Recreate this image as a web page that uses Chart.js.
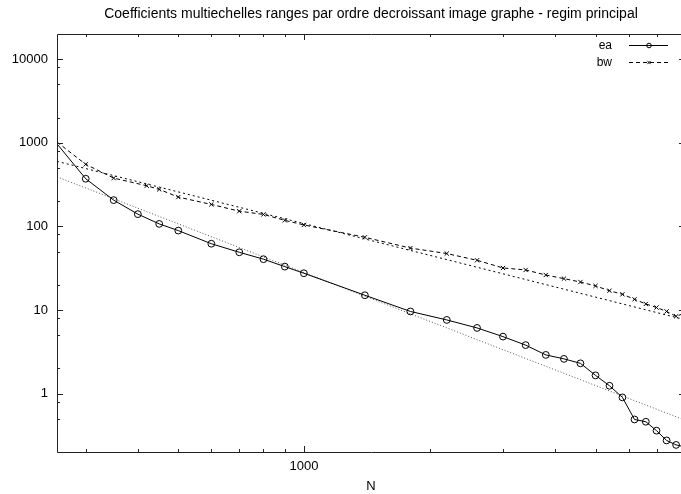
<!DOCTYPE html>
<html>
<head>
<meta charset="utf-8">
<script src="https://cdn.jsdelivr.net/npm/chart.js@4/dist/chart.umd.min.js"></script>
<style>
  html, body { margin: 0; padding: 0; background: #fff; overflow: hidden; }
  canvas { display: block; }
</style>
</head>
<body>
<canvas id="plot" width="690" height="494"></canvas>
<script>
// ranks N (x) and coefficient values (y)
const eaN = [256, 300, 350, 400, 450, 500, 600, 700, 800, 900, 1000, 1400, 1800, 2200, 2600,
             3000, 3400, 3800, 4200, 4600, 5000, 5400, 5800, 6200, 6600, 7000, 7400, 7800, 8192];
const eaVals = [970, 371, 206, 140, 107, 89, 62, 49, 40.5, 33, 27.5, 15, 9.6, 7.6, 6.1,
                4.8, 3.8, 2.9, 2.6, 2.3, 1.65, 1.24, 0.9, 0.49, 0.46, 0.36, 0.275, 0.243, 0.23];
const bwN = [256, 300, 350, 420, 450, 500, 600, 700, 800, 900, 1000, 1400, 1800, 2200, 2600,
             3000, 3400, 3800, 4200, 4600, 5000, 5400, 5800, 6200, 6600, 7000, 7400, 7800, 8192];
const bwVals = [1020, 552, 378, 306, 277, 224, 183, 152, 139, 118, 104, 74, 55, 47.3, 39.3,
                31.8, 30.1, 26.2, 23.7, 21.6, 19.4, 17.0, 15.4, 13.4, 11.8, 10.7, 9.6, 8.4, 9.2];

// power-law fits (straight lines in log-log)
const fitN = [256, 8192];
const eaFit = [391, 0.48];
const bwFit = [600, 7.65];

// axis ticks
const xMajor = [1000];
const xMinor = [300, 400, 500, 600, 700, 800, 900, 2000, 3000, 4000, 5000, 6000, 7000, 8000];
const yMajor = [1, 10, 100, 1000, 10000];
const yMinor = [0.5, 0.8, 2, 5, 8, 20, 50, 80, 200, 500, 800, 2000, 5000, 8000];

const pts = (xs, ys) => xs.map((v, i) => ({x: v, y: ys[i]}));
const FAMILY = '"Liberation Sans", Arial, Helvetica, sans-serif';
const FONT = {family: FAMILY, size: 13};

// gnuplot-style border with inward ticks on all four sides
const frame = {
    id: 'frame',
    afterDraw(chart) {
        const {ctx, chartArea: {left, top, right, bottom}, scales: {x, y}} = chart;
        ctx.save();
        ctx.strokeStyle = '#222';
        ctx.lineWidth = 1;
        ctx.beginPath();
        ctx.rect(Math.round(left) + 0.5, Math.round(top) + 0.5,
                 Math.round(right - left), Math.round(bottom - top));
        const xt = (vals, len) => vals.forEach(v => {
            const px = Math.round(x.getPixelForValue(v)) + 0.5;
            ctx.moveTo(px, bottom); ctx.lineTo(px, bottom - len);
            ctx.moveTo(px, top); ctx.lineTo(px, top + len);
        });
        const yt = (vals, len) => vals.forEach(v => {
            const py = Math.round(y.getPixelForValue(v)) + 0.5;
            ctx.moveTo(left, py); ctx.lineTo(left + len, py);
            ctx.moveTo(right, py); ctx.lineTo(right - len, py);
        });
        xt(xMajor, 6); xt(xMinor, 3);
        yt(yMajor, 6); yt(yMinor, 3);
        ctx.stroke();
        ctx.restore();
    }
};

// key in the top right corner: text, then line sample with marker
const key = {
    id: 'key',
    afterDraw(chart) {
        const {ctx} = chart;
        const items = chart.data.datasets.filter(d => d.label);
        ctx.save();
        ctx.font = '12px ' + FAMILY;
        ctx.textAlign = 'right';
        ctx.textBaseline = 'middle';
        items.forEach((d, i) => {
            const yy = 45.5 + i * 17;
            ctx.fillStyle = '#000';
            ctx.fillText(d.label, 612, yy);
            ctx.strokeStyle = '#000';
            ctx.lineWidth = 1;
            ctx.setLineDash(d.borderDash || []);
            ctx.beginPath();
            ctx.moveTo(629, yy); ctx.lineTo(668, yy);
            ctx.stroke();
            ctx.setLineDash([]);
            ctx.fillStyle = 'rgba(0,0,0,0)';
            Chart.helpers.drawPoint(ctx, {pointStyle: d.pointStyle, radius: 2.3, borderWidth: 1}, 649, yy);
        });
        ctx.restore();
    }
};

new Chart(document.getElementById('plot'), {
    type: 'line',
    data: {
        datasets: [{
            label: 'ea',
            data: pts(eaN, eaVals),
            borderColor: '#000',
            borderWidth: 1,
            pointStyle: 'circle',
            pointRadius: c => (c.dataIndex === 0 ? 0 : 3.4),
            pointBorderColor: '#000',
            pointBackgroundColor: 'rgba(0,0,0,0)',
            pointBorderWidth: 1
        }, {
            label: 'bw',
            data: pts(bwN, bwVals),
            borderColor: '#000',
            borderWidth: 1,
            borderDash: [4, 3],
            pointStyle: 'crossRot',
            pointRadius: c => (c.dataIndex === 0 ? 0 : 3),
            pointBorderColor: '#000',
            pointBorderWidth: 1
        }, {
            label: '',
            data: pts(fitN, eaFit),
            borderColor: '#555',
            borderWidth: 1,
            borderDash: [1, 2],
            pointRadius: 0
        }, {
            label: '',
            data: pts(fitN, bwFit),
            borderColor: '#000',
            borderWidth: 1,
            borderDash: [2, 3],
            pointRadius: 0
        }]
    },
    options: {
        responsive: false,
        animation: false,
        devicePixelRatio: 1,
        layout: {padding: {left: 0, right: 4, top: 0, bottom: 0}},
        plugins: {
            legend: {display: false},
            tooltip: {enabled: false},
            title: {
                display: true,
                fullSize: false,
                text: 'Coefficients multiechelles ranges par ordre decroissant image graphe - regim principal',
                color: '#000',
                font: {family: FAMILY, size: 14, weight: 'normal'},
                padding: {top: 5.6, bottom: 11.6}
            }
        },
        scales: {
            x: {
                type: 'logarithmic',
                min: 256,
                max: 8192,
                afterBuildTicks: s => { s.ticks = xMajor.map(v => ({value: v})); },
                afterFit: s => { s.height = 42; },
                grid: {display: false, drawTicks: false},
                border: {display: false},
                ticks: {color: '#000', font: FONT, padding: 7, maxRotation: 0, autoSkip: false,
                        callback: v => String(v)},
                title: {display: true, text: 'N', color: '#000', font: FONT, padding: {top: 0, bottom: 0}}
            },
            y: {
                type: 'logarithmic',
                min: 0.2,
                max: 20000,
                afterBuildTicks: s => { s.ticks = yMajor.map(v => ({value: v})); },
                afterFit: s => { s.width = 57; },
                grid: {display: false, drawTicks: false},
                border: {display: false},
                ticks: {color: '#000', font: FONT, padding: 9, autoSkip: false,
                        callback: v => String(v)}
            }
        }
    },
    plugins: [frame, key]
});
</script>
</body>
</html>
